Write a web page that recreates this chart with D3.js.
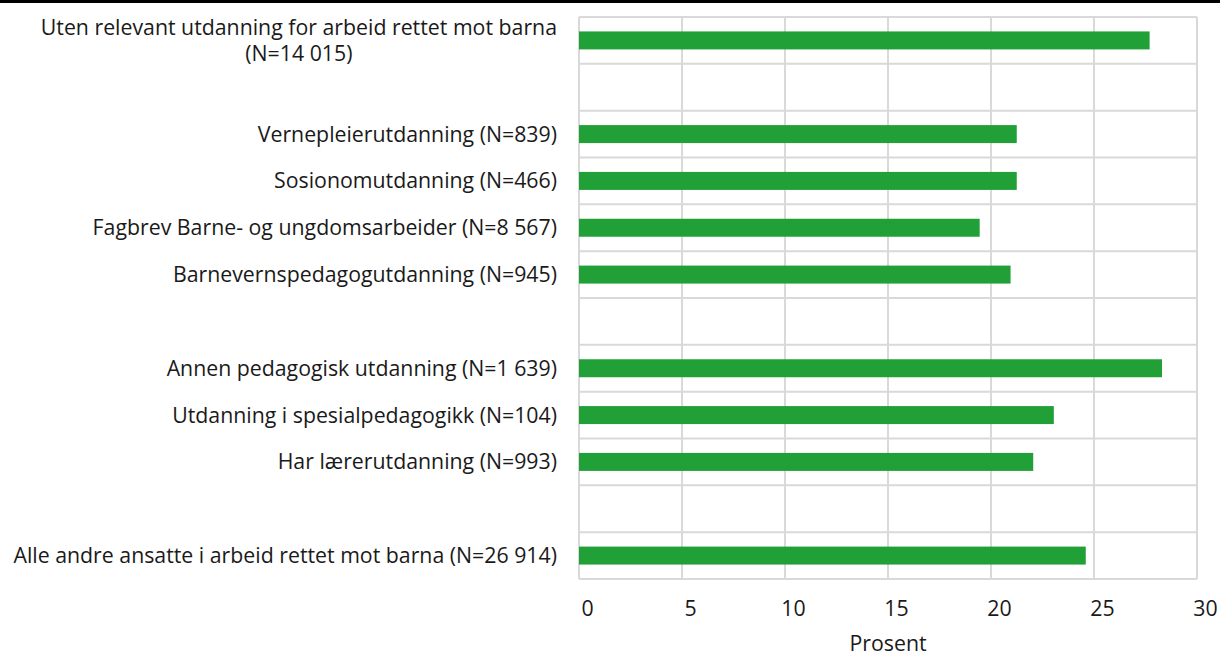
<!DOCTYPE html>
<html>
<head>
<meta charset="utf-8">
<script src="https://cdn.jsdelivr.net/npm/d3@7"></script>
<style>
  body { margin: 0; background: #fff; }
  text { font-family: "Open Sans", sans-serif; fill: #1a1a1a; }
</style>
</head>
<body>
<div id="chart"></div>
<script>
// categories (empty string = spacer row), values in percent
var categories = [
  "Uten relevant utdanning for arbeid rettet mot barna|(N=14 015)",
  "",
  "Vernepleierutdanning (N=839)",
  "Sosionomutdanning (N=466)",
  "Fagbrev Barne- og ungdomsarbeider (N=8 567)",
  "Barnevernspedagogutdanning (N=945)",
  "",
  "Annen pedagogisk utdanning (N=1 639)",
  "Utdanning i spesialpedagogikk (N=104)",
  "Har lærerutdanning (N=993)",
  "",
  "Alle andre ansatte i arbeid rettet mot barna (N=26 914)"
];
var values = [27.7, null, 21.25, 21.25, 19.45, 20.95, null, 28.3, 23.05, 22.05, null, 24.6];
var xTicks = [0, 5, 10, 15, 20, 25, 30];
var xTitle = "Prosent";

var width = 1220, height = 657,
    margin = {top: 17, right: 23, bottom: 78, left: 579},
    fontSize = 21.3;

var svg = d3.select('#chart').append('svg')
  .attr('width', width)
  .attr('height', height);

// black rule along the top
svg.append('rect')
  .attr('x', 0).attr('y', 0)
  .attr('width', width).attr('height', 3)
  .attr('fill', '#000');

var x = d3.scaleLinear()
  .domain([0, 30])
  .range([margin.left, width - margin.right]);

var y = d3.scaleBand()
  .domain(d3.range(categories.length))
  .range([margin.top, height - margin.bottom])
  .paddingInner(0.616)
  .paddingOuter(0.308);

var rows = d3.scaleLinear()
  .domain([0, categories.length])
  .range([margin.top, height - margin.bottom]);

var grid = svg.append('g').attr('stroke', '#d9d9d9').attr('stroke-width', 2);

grid.selectAll('line.v').data(xTicks)
  .enter().append('line')
  .attr('x1', function (d) { return x(d); })
  .attr('x2', function (d) { return x(d); })
  .attr('y1', rows(0))
  .attr('y2', rows(categories.length));

grid.selectAll('line.h').data(d3.range(categories.length + 1))
  .enter().append('line')
  .attr('x1', x(0))
  .attr('x2', x(30))
  .attr('y1', function (d) { return rows(d); })
  .attr('y2', function (d) { return rows(d); });

svg.selectAll('rect.bar').data(values.map(function (v, i) { return {v: v, i: i}; })
    .filter(function (d) { return d.v != null; }))
  .enter().append('rect')
  .attr('class', 'bar')
  .attr('fill', '#21a038')
  .attr('x', x(0))
  .attr('y', function (d) { return y(d.i); })
  .attr('width', function (d) { return x(d.v) - x(0); })
  .attr('height', y.bandwidth());

// category labels, multi-line ones centred on their widest line
var labels = svg.append('g').attr('font-size', fontSize);
categories.forEach(function (c, i) {
  if (!c) return;
  var lines = c.split('|');
  var cy = y(i) + y.bandwidth() / 2;
  var lineH = 26;
  var t = labels.append('text').attr('text-anchor', 'end');
  lines.forEach(function (l, k) {
    t.append('tspan')
      .attr('x', 557)
      .attr('y', cy + (k - (lines.length - 1) / 2) * lineH)
      .attr('dy', '0.35em')
      .text(l);
  });
  if (lines.length > 1) {
    var maxW = 0;
    t.selectAll('tspan').each(function () { maxW = Math.max(maxW, this.getComputedTextLength()); });
    t.attr('text-anchor', 'middle');
    t.selectAll('tspan').attr('x', 557 - maxW / 2);
  }
});

var xAxis = svg.append('g')
  .attr('transform', 'translate(0,' + rows(categories.length) + ')')
  .call(d3.axisBottom(x).tickValues(xTicks).tickSize(0).tickPadding(22));
xAxis.select('.domain').remove();
xAxis.selectAll('text')
  .attr('font-size', fontSize)
  .attr('font-family', '"Open Sans", sans-serif')
  .attr('fill', '#1a1a1a')
  .attr('dx', 8);

svg.append('text')
  .attr('x', (x(0) + x(30)) / 2)
  .attr('y', 644)
  .attr('dy', '0.35em')
  .attr('text-anchor', 'middle')
  .attr('font-size', fontSize)
  .text(xTitle);
</script>
</body>
</html>
